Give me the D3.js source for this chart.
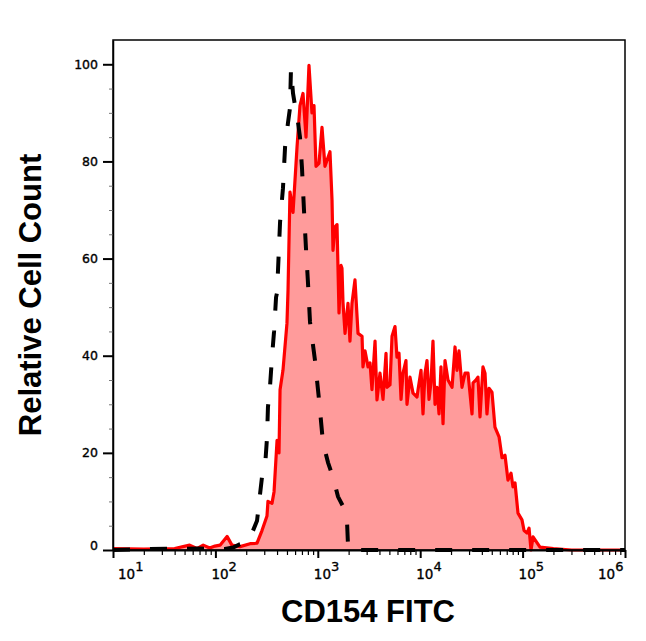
<!DOCTYPE html>
<html>
<head>
<meta charset="utf-8">
<script src="https://cdn.jsdelivr.net/npm/d3@7"></script>
<style>
  body { margin: 0; background: #fff; }
  svg { display: block; }
</style>
</head>
<body>
<div id="chart"></div>
<script>
// CD154 FITC histogram vs isotype control (log x axis)

// CD154 stained sample: fluorescence (FITC) and relative count
var cd154X = [10, 20, 40, 56, 66, 76, 88, 99, 111, 130, 145, 174, 218, 255, 285, 319, 326, 357, 374,
  400, 418, 428, 457, 500, 512, 535, 573, 627, 670, 717, 767, 820, 877, 918, 960, 1027, 1099,
  1175, 1315, 1377, 1407, 1472, 1540, 1611, 1686, 1722, 1762, 1845, 1972, 2061, 2158, 2307, 2470,
  2704, 2762, 2891, 3093, 3236, 3381, 3622, 3784, 4048, 4335, 4636, 4742, 5070, 5308, 5675, 5933,
  6209, 6501, 6792, 7261, 7430, 7943, 8511, 9311, 9528, 10190, 10650, 11140, 11650, 12190, 12740,
  13330, 13950, 14590, 15270, 15960, 16710, 17470, 18680, 20460, 21880, 22870, 23930, 25590,
  27400, 29310, 32070, 32810, 35080, 36650, 38370, 41020, 42950, 44870, 46990, 50230, 53700,
  58880, 62950, 67300, 71950, 77090, 80540, 84330, 90160, 98620, 103300, 110400, 115600, 120800,
  126500, 147900, 200000, 300000, 500000, 1000000];
var cd154Y = [0.3, 0.2, 0.3, 1, 0.3, 1, 0.4, 0.8, 1, 2.8, 1, 0.7, 1.3, 1.4, 4, 7, 10, 9.6, 12,
  22.6, 20, 33, 37, 46.7, 53.5, 73.7, 69.5, 83, 91.5, 94, 85, 99.8, 90, 91.5, 79, 79.6, 87,
  79, 82, 72, 61.7, 66.5, 67, 48.8, 58.6, 58, 51, 44.6, 50.8, 43, 50.8, 55.6, 44.6,
  44, 37.7, 41, 37.7, 38.5, 33, 43, 30.9, 36.4, 31, 40.5, 33.5, 34, 44, 46, 39.7,
  40.5, 31, 36.4, 39, 30, 35.6, 32.3, 31.5, 33, 37, 28, 36.4, 39, 31, 34.4,
  43, 30, 33.5, 28, 37.7, 26, 39, 35, 33.5, 41.8, 37, 41, 33.5,
  36.4, 36.4, 28, 34.4, 35, 35.6, 27.4, 37.7, 36.4, 28, 33.3, 32.5, 25.3,
  23.3, 19, 19.5, 14.4, 15.8, 13, 13.8, 7.6, 6.2, 4, 3.5, 4.5, 0,
  2.7, 0.6, 0.3, 0, 0, 0];

// isotype control: fluorescence and relative count
var isoX = [10, 23, 70, 124, 149, 174, 195, 218, 255, 285, 305, 319, 326, 341, 357, 374, 391, 400,
  428, 457, 479, 512, 535, 547, 573, 599, 641, 670, 701, 733, 767, 802, 839, 939, 1027, 1125,
  1259, 1407, 1574, 1762, 1928, 1972, 2061, 1000000];
var isoY = [0, 0.2, 0.3, 0.2, 0.5, 1.2, 1.5, 2.5, 6, 15, 17, 23, 29.4, 33.5, 39.7, 45, 52, 53,
  67.5, 74.5, 83, 88, 91, 99, 94, 91.5, 88, 85, 78.6, 70, 62, 55, 47, 39, 31, 22,
  18, 15, 11, 9, 6, 1, 0, 0];

// axis ticks
var decadeExps = [1, 2, 3, 4, 5, 6];
var countTicks = [0, 20, 40, 60, 80, 100];

var svgWidth = 646;
var svgHeight = 641;

var plot = { left: 113, right: 625, top: 40, bottom: 550 };

var svg = d3.select("#chart")
  .append("svg")
  .attr("width", svgWidth)
  .attr("height", svgHeight)
  .style("background", "#fff");

var x = d3.scaleLog()
  .domain([10, 1e6])
  .range([plot.left, plot.right]);

var y = d3.scaleLinear()
  .domain([0, 105])
  .range([plot.bottom, plot.top]);

var cd154 = cd154X.map((v, i) => ({ x: v, y: cd154Y[i] }));
var iso = isoX.map((v, i) => ({ x: v, y: isoY[i] }));

// filled histogram
var area = d3.area()
  .x(d => x(d.x))
  .y0(y(0))
  .y1(d => y(d.y));

var line = d3.line()
  .x(d => x(d.x))
  .y(d => y(d.y));

svg.append("path")
  .datum(cd154)
  .attr("d", area)
  .attr("fill", "#ff9b9b");

svg.append("path")
  .datum(cd154)
  .attr("d", line)
  .attr("fill", "none")
  .attr("stroke", "#ff0000")
  .attr("stroke-width", 3.2)
  .attr("stroke-linejoin", "round");

// frame
svg.append("rect")
  .attr("x", plot.left)
  .attr("y", plot.top)
  .attr("width", plot.right - plot.left)
  .attr("height", plot.bottom - plot.top)
  .attr("fill", "none")
  .attr("stroke", "#000")
  .attr("stroke-width", 1.5);

// minor x ticks (2..9 in each decade)
var minorX = [];
decadeExps.slice(0, -1).forEach(function(e) {
  for (var k = 2; k <= 9; k++) minorX.push(k * Math.pow(10, e));
});

svg.append("g")
  .attr("transform", `translate(0,${plot.bottom})`)
  .call(d3.axisBottom(x).tickValues(minorX).tickSize(5).tickFormat(""))
  .call(g => g.select(".domain").remove())
  .selectAll("line").attr("stroke-width", 1.2);

var xAxis = svg.append("g")
  .attr("transform", `translate(0,${plot.bottom})`)
  .call(d3.axisBottom(x)
    .tickValues(decadeExps.map(e => Math.pow(10, e)))
    .tickSize(8)
    .tickSizeOuter(0)
    .tickFormat(""));
xAxis.select(".domain").attr("stroke-width", 2);
xAxis.selectAll("line").attr("stroke-width", 2);

// x tick labels 10^n ("10" starts a little left of the tick)
var labelShift = { 1: 5, 6: -27 };
decadeExps.forEach(function(e) {
  var t = svg.append("text")
    .attr("x", x(Math.pow(10, e)) + (labelShift[e] !== undefined ? labelShift[e] : -4))
    .attr("y", 579)
    .attr("text-anchor", "start")
    .style("font-family", "DejaVu Sans, Verdana, sans-serif")
    .style("font-size", "13.5px")
    .attr("fill", "#000")
    .attr("stroke", "#000")
    .attr("stroke-width", 0.35);
  t.append("tspan").text("10");
  t.append("tspan")
    .attr("dy", -8)
    .style("font-size", "13px")
    .text(e);
});

// y axis minor + major ticks
var minorY = d3.range(0, 101, 5).filter(v => v % 20 !== 0);

svg.append("g")
  .attr("transform", `translate(${plot.left},0)`)
  .call(d3.axisLeft(y).tickValues(minorY).tickSize(4).tickFormat(""))
  .call(g => g.select(".domain").remove())
  .selectAll("line").attr("stroke", "#777").attr("stroke-width", 1);

var yAxis = svg.append("g")
  .attr("transform", `translate(${plot.left},0)`)
  .call(d3.axisLeft(y).tickValues(countTicks).tickSize(10).tickSizeOuter(0).tickPadding(5));
yAxis.select(".domain").attr("stroke-width", 1.5);
yAxis.selectAll("line").attr("stroke-width", 2);
yAxis.selectAll("text")
  .style("font-family", "DejaVu Sans, Verdana, sans-serif")
  .style("font-size", "12.5px")
  .attr("fill", "#000")
  .attr("stroke", "#000")
  .attr("stroke-width", 0.35)
  .attr("dy", d => d === 0 ? "-0.05em" : "0.32em");

// isotype control, dashed on top
svg.append("path")
  .datum(iso)
  .attr("d", line)
  .attr("fill", "none")
  .attr("stroke", "#000")
  .attr("stroke-width", 4)
  .attr("stroke-dasharray", "17,20");

// axis titles
svg.append("text")
  .attr("x", 368)
  .attr("y", 622)
  .attr("text-anchor", "middle")
  .style("font-family", "Liberation Sans, Arial, sans-serif")
  .style("font-weight", "bold")
  .style("font-size", "31px")
  .text("CD154 FITC");

svg.append("text")
  .attr("transform", "translate(41,295) rotate(-90)")
  .attr("text-anchor", "middle")
  .style("font-family", "Liberation Sans, Arial, sans-serif")
  .style("font-weight", "bold")
  .style("font-size", "31px")
  .text("Relative Cell Count");
</script>
</body>
</html>
